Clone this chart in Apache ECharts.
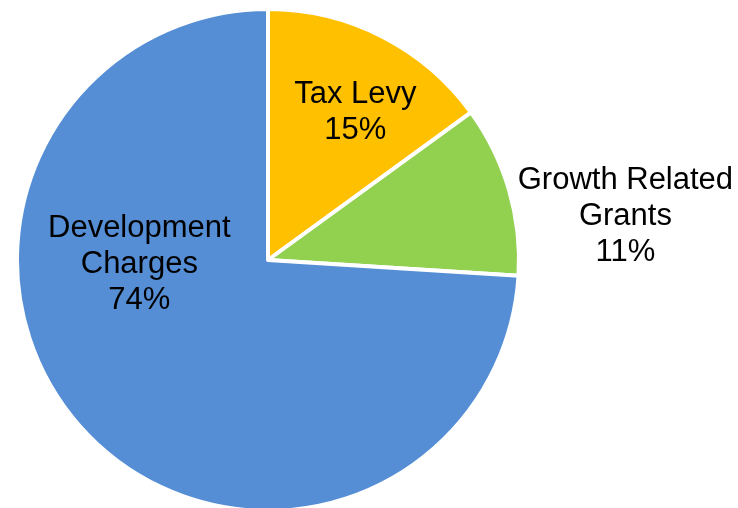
<!DOCTYPE html>
<html>
<head>
<meta charset="utf-8">
<script src="https://cdn.jsdelivr.net/npm/echarts@6/dist/echarts.min.js"></script>
<style>
  html, body { margin: 0; padding: 0; background: #ffffff; }
  #chart { width: 738px; height: 508px; }
</style>
</head>
<body>
<div id="chart"></div>
<script>
// Funding sources (share of total, %)
const categories = ['Tax Levy', 'Growth Related Grants', 'Development Charges'];
const shares = [15, 11, 74];
const labelNames = ['Tax Levy', 'Growth Related\nGrants', 'Development\nCharges'];
const colors = ['#FFC000', '#92D050', '#558ED5'];

// Label nudges from the default inside position
const labelShift = [[29, -33], [234, -8], [-35, -84]];

const chart = echarts.init(document.getElementById('chart'), null, { renderer: 'canvas' });

chart.setOption({
  animation: false,
  backgroundColor: '#ffffff',
  series: [{
    type: 'pie',
    center: [268, 260],
    radius: [0, 251],
    startAngle: 90,
    clockwise: true,
    avoidLabelOverlap: false,
    emphasis: { disabled: true },
    itemStyle: { borderColor: '#ffffff', borderWidth: 4 },
    label: {
      show: true,
      position: 'inside',
      fontFamily: 'Liberation Sans, Arial, sans-serif',
      fontSize: 31,
      lineHeight: 36,
      color: '#000000',
      align: 'center',
      formatter: p => labelNames[p.dataIndex] + '\n' + p.percent.toFixed(0) + '%'
    },
    labelLine: { show: false },
    labelLayout: p => ({ dx: labelShift[p.dataIndex][0], dy: labelShift[p.dataIndex][1] }),
    data: categories.map((c, i) => ({
      name: c,
      value: shares[i],
      itemStyle: { color: colors[i] }
    }))
  }]
});
</script>
</body>
</html>
